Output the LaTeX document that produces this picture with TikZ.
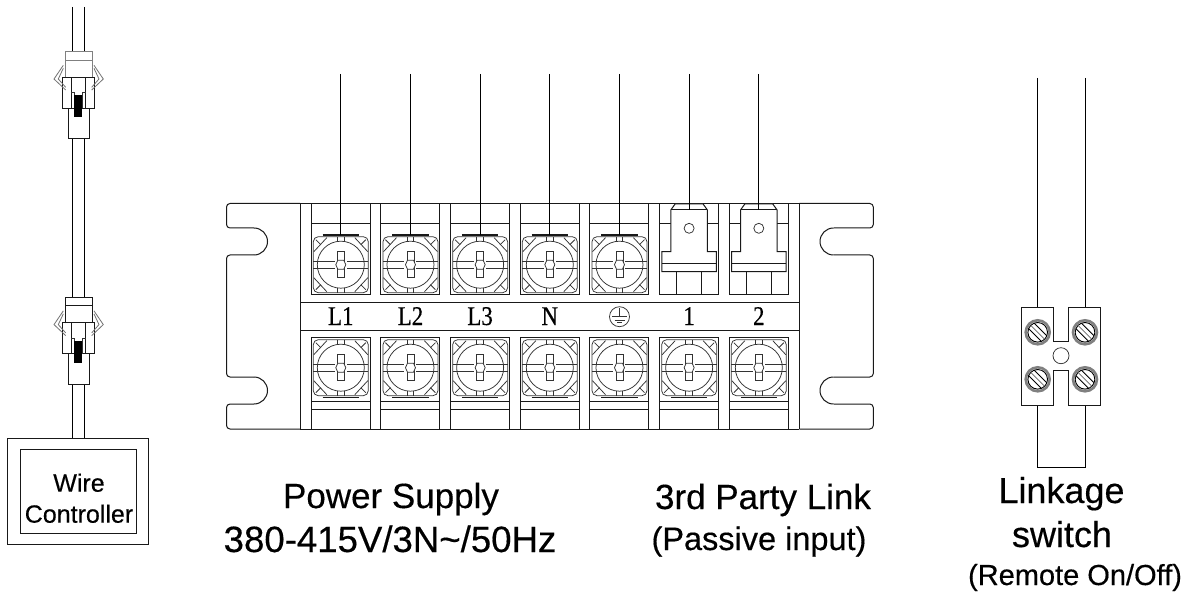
\documentclass[tikz,border=0pt]{standalone}
\usepackage{fontspec}
\usepackage{graphicx}
\setmainfont[FakeBold=0.35]{Liberation Sans}
\newfontfamily\labelserif[FakeBold=0.5]{Liberation Serif}
\tikzset{
  x=1pt,y=-1pt,
  ln/.style={line width=1pt,black!90},
  thin ln/.style={line width=0.75pt,black!80},
  grey ln/.style={line width=0.8pt,black!55},
  wire/.style={line width=0.9pt,black},
  caption/.style={inner sep=0pt,anchor=base},
  term/.style={inner sep=0pt,anchor=base,font=\labelserif\fontsize{27}{27}\selectfont},
}
\newcommand{\tlab}[1]{\scalebox{.85}[1]{#1}}
% screw terminal: #1 x, #2 y, #3 1 = top bar, -1 = bottom bar
\newcommand{\screwterm}[3]{%
 \begin{scope}[shift={(#1,#2)},yscale=#3]
  \draw[thin ln,rounded corners=5pt] (-27.5,-28) rectangle (27.5,28);
  \draw[thin ln] (0,0) circle (23.5);
  \draw[thin ln] (-27.5,-3.3) -- (-6,-3.3) (27.5,-3.3) -- (6,-3.3)
     (-27.5,3.3) -- (-6,3.3) (27.5,3.3) -- (6,3.3);
  \draw[thin ln,fill=white] (-3.5,-13) rectangle (3.5,13);
  \draw[thin ln,fill=white] (-5,0) -- (-3,-4.5) -- (3,-4.5) -- (5,0) -- (3,4.5) -- (-3,4.5) -- cycle;
  \draw[thin ln] (-3.3,-28) -- (-3.3,-23.3) (3.3,-28) -- (3.3,-23.3)
     (-3.3,28) -- (-3.3,23.3) (3.3,28) -- (3.3,23.3);
  \foreach \sx in {-1,1}\foreach \sy in {-1,1}{
   \draw[thin ln] (\sx*27,\sy*13) -- (\sx*14,\sy*27);
   \draw[thin ln] (\sx*25,\sy*25) -- (\sx*20,\sy*20);
  }
  \draw[ln,line width=1.1pt] (-18.3,-29.7) -- (18.3,-29.7);
 \end{scope}}
% spade terminal centred on x #1
\newcommand{\spade}[1]{%
 \begin{scope}[shift={(#1,0)}]
  \draw[ln,fill=white] (-18.3,210) -- (-14,204) -- (14,204) -- (18.3,210) -- (18.3,251.7)
     -- (27.3,251.7) -- (27.3,271.7) -- (-27.3,271.7) -- (-27.3,251.7) -- (-18.3,251.7) -- cycle;
  \draw[ln] (-18.3,210) -- (18.3,210);
  \draw[ln] (-27.3,264) -- (27.3,264);
  \draw[ln] (-12.5,271.7) -- (-12.5,294.3) (12.5,271.7) -- (12.5,294.3);
  \draw[thin ln] (0,228.3) circle (5);
 \end{scope}}
% plug connector, #1 = y of its top, #2 = line style of upper part
\newcommand{\plug}[2]{%
 \begin{scope}[shift={(0,#1)}]
  \draw[#2] (65.3,26) -- (65.3,0) -- (92,0) -- (92,26) (65.3,8.3) -- (92,8.3);
  \draw[ln] (62.3,25.6) rectangle (94.7,56.6);
  \draw[ln] (68,56.6) rectangle (89.3,87.3);
  \draw[ln] (71.3,25.6) -- (71.3,56.6) (85.7,25.6) -- (85.7,56.6);
  \draw[thin ln] (71.3,41) -- (74.3,41) -- (74.3,56.6) (85.7,41) -- (82.3,41) -- (82.3,56.6);
  \fill[black] (74.3,43.3) rectangle (82.3,65.6);
  \draw[grey ln] (63.3,13.6) -- (54,27.3) -- (65.7,38.3) (63.3,16.6) -- (58.3,27.3) -- (65.7,35.6);
  \draw[grey ln] (94,13.6) -- (103.3,27.3) -- (91.7,38.3) (94,16.6) -- (99,27.3) -- (91.7,35.6);
 \end{scope}}
% linkage screw
\newcommand{\lscrew}[2]{%
 \begin{scope}[shift={(#1,#2)}]
  \draw[line width=2.6pt,black!50] (0,0) circle (12);
  \draw[line width=0.9pt,black] (0,0) circle (9.8);
  \begin{scope}
   \clip (0,0) circle (9.8);
   \draw[line width=0.9pt,black] (-10,-4.5) -- (4.5,10) (-4.5,-10) -- (10,4.5);
   \draw[line width=0.7pt,black!60] (-7,-7) -- (7,7);
  \end{scope}
 \end{scope}}
\begin{document}
\begin{tikzpicture}
\useasboundingbox (0,0) rectangle (1192,596);
\fill[white] (0,0) rectangle (1192,596);

% ---------- left: wire controller
\coordinate (wa0) at (72.7,7);
\coordinate (wb0) at (84.7,7);
\coordinate (wa1) at (72.7,51.7);
\coordinate (wb1) at (84.7,51.7);
\coordinate (wa2) at (72.7,139);
\coordinate (wb2) at (84.7,139);
\coordinate (wa3) at (72.7,297.3);
\coordinate (wb3) at (84.7,297.3);
\coordinate (wa4) at (72.7,384.6);
\coordinate (wb4) at (84.7,384.6);
\coordinate (wa5) at (72.7,438);
\coordinate (wb5) at (84.7,438);
\draw[wire] (wa0) -- (wa1) (wb0) -- (wb1) (wa2) -- (wa3) (wb2) -- (wb3) (wa4) -- (wa5) (wb4) -- (wb5);
\plug{51.7}{line width=0.9pt,black!50}
\plug{297.3}{ln}
\draw[ln] (7.7,438) rectangle (148.3,544);
\draw[ln] (20.7,449) rectangle (136,533.3);
\node[caption,font=\fontsize{25}{25}\selectfont] (wc1) at (79,491.7) {Wire};
\node[caption,font=\fontsize{25}{25}\selectfont] (wc2) at (79,522.7) {Controller};

% ---------- terminal plate
\draw[ln,rounded corners=3.5pt]
  (300,203.5) -- (226.5,203.5) -- (226.5,228) -- (254,228);
\draw[ln] (254,228) arc[start angle=-90,end angle=90,radius=13.5];
\draw[ln,rounded corners=3.5pt]
  (254,255) -- (226.5,255) -- (226.5,377) -- (254,377);
\draw[ln] (254,377) arc[start angle=-90,end angle=90,radius=13.5];
\draw[ln,rounded corners=3.5pt]
  (254,404) -- (226.5,404) -- (226.5,429) -- (300,429);
\draw[ln,rounded corners=3.5pt]
  (799.3,203.5) -- (873.3,203.5) -- (873.3,228) -- (833.5,228);
\draw[ln] (833.5,228) arc[start angle=-90,end angle=-270,radius=13.5];
\draw[ln,rounded corners=3.5pt]
  (833.5,255) -- (873.3,255) -- (873.3,377) -- (833.5,377);
\draw[ln] (833.5,377) arc[start angle=-90,end angle=-270,radius=13.5];
\draw[ln,rounded corners=3.5pt]
  (833.5,404) -- (873.3,404) -- (873.3,429) -- (799.3,429);
\draw[ln] (300,203.5) -- (799.3,203.5) (300,429) -- (799.3,429);
\draw[ln] (300,203.5) -- (300,429) (799.3,203.5) -- (799.3,429);
\draw[ln] (300,302) -- (799.3,302) (300,330.7) -- (799.3,330.7);

\foreach \i in {0,...,6}{
  \pgfmathsetmacro{\cx}{340.8+69.67*\i}
  \draw[ln] (\cx-29.5,203.5) rectangle (\cx+29.5,294.3);
  \draw[ln] (\cx-29.5,223.3) -- (\cx+29.5,223.3);
  \draw[ln] (\cx-29.5,337) rectangle (\cx+29.5,429);
  \draw[ln] (\cx-29.5,401) -- (\cx+29.5,401) (\cx-29.5,409.7) -- (\cx+29.5,409.7);
  \screwterm{\cx}{367.7}{-1}
}
\foreach \i in {0,...,4}{
  \pgfmathsetmacro{\cx}{340.8+69.67*\i}
  \screwterm{\cx}{264.7}{1}
}
\spade{689.1}
\spade{758.8}

% wires to the terminals
\foreach \i/\yy in {0/235,1/235,2/235,3/235,4/235,5/210,6/210}{
  \pgfmathsetmacro{\cx}{340.8+69.67*\i}
  \coordinate (wt\i) at (\cx,74);
  \coordinate (tt\i) at (\cx,\yy);
  \draw[wire] (wt\i) -- (tt\i);
}

% terminal labels
\node[term] (l1) at (340.8,325) {\tlab{L1}};
\node[term] (l2) at (410.5,325) {\tlab{L2}};
\node[term] (l3) at (480.1,325) {\tlab{L3}};
\node[term] (lN) at (549.8,325) {\tlab{N}};
\node[term] (l6) at (689.1,325) {\tlab{1}};
\node[term] (l7) at (758.8,325) {\tlab{2}};
% earth symbol
\draw[thin ln] (619.5,316.7) circle (10);
\draw[thin ln] (619.5,308) -- (619.5,316.7);
\draw[thin ln] (612,316.7) -- (627,316.7) (614.5,320) -- (624.5,320);
\draw[thin ln] (617,322.7) -- (622,322.7);

% ---------- linkage switch
\coordinate (la0) at (1037.7,78);
\coordinate (lb0) at (1085,78);
\coordinate (la1) at (1037.7,307.3);
\coordinate (lb1) at (1085,307.3);
\coordinate (la2) at (1037.7,405.3);
\coordinate (lb2) at (1085,405.3);
\coordinate (la3) at (1037.7,467.3);
\coordinate (lb3) at (1085,467.3);
\draw[wire] (la0) -- (la1) (lb0) -- (lb1);
\draw[wire] (la2) -- (la3) -- (lb3) -- (lb2);
\draw[ln] (1021.7,307.3) -- (1053.3,307.3) -- (1053.3,341.7) -- (1068.7,341.7) -- (1068.7,307.3)
  -- (1100.7,307.3) -- (1100.7,405.3) -- (1068.7,405.3) -- (1068.7,370) -- (1053.3,370)
  -- (1053.3,405.3) -- (1021.7,405.3) -- cycle;
\draw[thin ln] (1061,355.7) circle (8);
\lscrew{1037.7}{332.3}
\lscrew{1085}{332.3}
\lscrew{1037.7}{379.3}
\lscrew{1085}{379.3}

% ---------- captions
\node[caption,font=\fontsize{35}{35}\selectfont] (c1) at (391,508) {Power Supply};
\node[caption,font=\fontsize{36.6}{37}\selectfont] (c2) at (390,552) {380-415V/3N\textasciitilde/50Hz};
\node[caption,font=\fontsize{35}{35}\selectfont] (c3) at (763,509) {3rd Party Link};
\node[caption,font=\fontsize{32.5}{33}\selectfont] (c4) at (759,550) {(Passive input)};
\node[caption,font=\fontsize{36}{36}\selectfont] (c5) at (1061.5,503) {Linkage};
\node[caption,font=\fontsize{36}{36}\selectfont] (c6) at (1062,547) {switch};
\node[caption,font=\fontsize{29}{29}\selectfont] (c7) at (1075,585) {(Remote On/Off)};
\end{tikzpicture}
\end{document}
